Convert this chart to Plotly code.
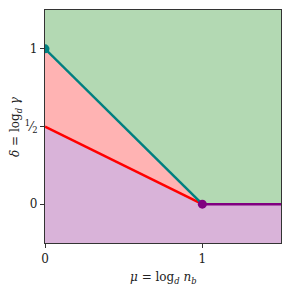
import plotly.graph_objects as go

# boundary data
mu = [0, 1, 1.5]
delta_teal = [1, 0, 0]
delta_red = [0.5, 0, 0]
delta_low = [-0.25, -0.25, -0.25]
delta_high = [1.25, 1.25, 1.25]
teal_seg_mu = [0, 1]
teal_seg_delta = [1, 0]
red_seg_mu = [0, 1]
red_seg_delta = [0.5, 0]
purple_seg_mu = [1, 1.5]
purple_seg_delta = [0, 0]
pt_mu = [0, 1]
pt_delta = [1, 0]

xticks = [0, 1]
xticklabels = ["0", "1"]
yticks = [0, 0.5, 1]
yticklabels = ["0", "<sup>1</sup>\u2044<sub>2</sub>", "1"]

GREEN_F = "#b3d9b3"
PINK_F = "#ffb3b3"
PURPLE_F = "#d9b3d9"
TEAL = "#008080"
RED = "#ff0000"
PURPLE = "#800080"

fig = go.Figure()
fig.add_trace(go.Scatter(x=mu, y=delta_low, mode="lines", line=dict(width=0), showlegend=False, hoverinfo="skip"))
fig.add_trace(go.Scatter(x=mu, y=delta_red, mode="lines", line=dict(width=0), fill="tonexty", fillcolor=PURPLE_F, showlegend=False))
fig.add_trace(go.Scatter(x=mu, y=delta_teal, mode="lines", line=dict(width=0), fill="tonexty", fillcolor=PINK_F, showlegend=False))
fig.add_trace(go.Scatter(x=mu, y=delta_high, mode="lines", line=dict(width=0), fill="tonexty", fillcolor=GREEN_F, showlegend=False))

fig.add_trace(go.Scatter(x=red_seg_mu, y=red_seg_delta, mode="lines", line=dict(color=RED, width=2.5), showlegend=False))
fig.add_trace(go.Scatter(x=teal_seg_mu, y=teal_seg_delta, mode="lines", line=dict(color=TEAL, width=2.5), showlegend=False))
fig.add_trace(go.Scatter(x=purple_seg_mu, y=purple_seg_delta, mode="lines", line=dict(color=PURPLE, width=2.5), showlegend=False))
fig.add_trace(go.Scatter(x=pt_mu[:1], y=pt_delta[:1], mode="markers", marker=dict(color=TEAL, size=9), showlegend=False))
fig.add_trace(go.Scatter(x=pt_mu[1:], y=pt_delta[1:], mode="markers", marker=dict(color=PURPLE, size=9), showlegend=False))

SERIF = "DejaVu Serif"
font = dict(family=SERIF, size=12, color="#222")

fig.update_layout(
    width=291, height=295,
    margin=dict(l=45, r=10, t=10, b=52, autoexpand=False),
    plot_bgcolor="white", paper_bgcolor="white",
    font=font,
    xaxis=dict(range=[0, 1.5], tickvals=xticks, ticktext=xticklabels, showgrid=False, zeroline=False,
               showline=True, linecolor="#333", linewidth=1.2, mirror=True, ticks="outside", ticklen=4,
               tickcolor="#333", automargin=False, tickfont=dict(family=SERIF, size=12)),
    yaxis=dict(range=[-0.25, 1.25], tickvals=yticks, ticktext=yticklabels, showgrid=False, zeroline=False,
               showline=True, linecolor="#333", linewidth=1.2, mirror=True, ticks="outside", ticklen=4,
               tickcolor="#333", automargin=False, tickfont=dict(family=SERIF, size=12)),
    annotations=[
        dict(text="<i>μ</i> = log<sub><i>d</i></sub> <i>n</i><sub><i>b</i></sub>", xref="paper", yref="paper",
             x=0.5, y=-0.15, xanchor="center", yanchor="middle", showarrow=False,
             font=dict(family=SERIF, size=12, color="#222")),
        dict(text="<i>δ</i> = log<sub><i>d</i></sub> <i>γ</i>", xref="paper", yref="paper",
             x=-0.125, y=0.5, xanchor="center", yanchor="middle", showarrow=False, textangle=-90,
             font=dict(family=SERIF, size=12, color="#222")),
    ],
)

fig.write_html("out.html", config={"displayModeBar": False},
               post_script="document.body.style.margin='0';document.body.style.padding='0';")
